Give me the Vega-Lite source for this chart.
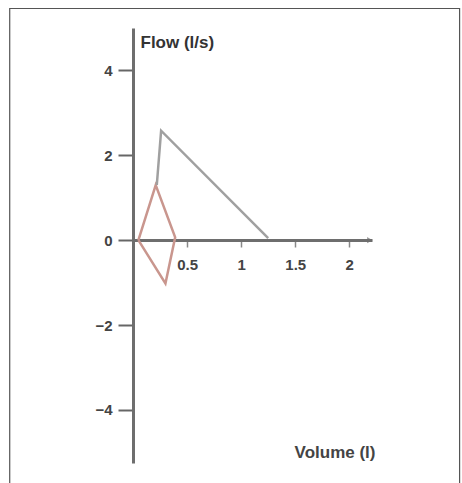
{
  "$schema": "https://vega.github.io/schema/vega-lite/v6.json",
  "width": 239,
  "height": 435,
  "autosize": "none",
  "padding": {"left": 133, "top": 28, "right": 90, "bottom": 20},
  "background": "white",
  "config": {"view": {"stroke": null}, "font": "Liberation Sans"},
  "datasets": {
    "frame": [{"x": -1.14, "x2": 3.02, "y": 5.46, "y2": -6.0}],
    "loops": [
      {"series": "tidal", "order": 1, "volume": 0.05, "flow": 0.0},
      {"series": "tidal", "order": 2, "volume": 0.21, "flow": 1.3},
      {"series": "tidal", "order": 3, "volume": 0.39, "flow": 0.07},
      {"series": "tidal", "order": 4, "volume": 0.3, "flow": -1.02},
      {"series": "tidal", "order": 5, "volume": 0.05, "flow": 0.0},
      {"series": "forced", "order": 1, "volume": 0.22, "flow": 1.3},
      {"series": "forced", "order": 2, "volume": 0.26, "flow": 2.58},
      {"series": "forced", "order": 3, "volume": 1.25, "flow": 0.05}
    ],
    "arrow": [{"volume": 2.19, "flow": 0}]
  },
  "layer": [
    {
      "data": {"name": "frame"},
      "mark": {"type": "rect", "fill": null, "stroke": "#555", "strokeWidth": 1.2, "clip": false},
      "encoding": {
        "x": {"field": "x", "type": "quantitative", "scale": {"domain": [0, 2.21]}},
        "x2": {"field": "x2"},
        "y": {"field": "y", "type": "quantitative", "scale": {"domain": [-5.25, 5]}},
        "y2": {"field": "y2"}
      }
    },
    {
      "data": {"name": "loops"},
      "mark": {"type": "line", "strokeWidth": 2.5, "strokeJoin": "miter"},
      "encoding": {
        "x": {
          "field": "volume", "type": "quantitative",
          "scale": {"domain": [0, 2.21], "nice": false, "zero": false},
          "axis": {
            "values": [0.5, 1, 1.5, 2],
            "format": "~g",
            "orient": "bottom",
            "offset": -223,
            "grid": false,
            "domainColor": "#6e6e6e",
            "domainWidth": 3,
            "tickColor": "#888",
            "tickSize": 7,
            "tickWidth": 1.5,
            "labelPadding": 10,
            "labelFontSize": 15,
            "labelFontWeight": "bold",
            "labelColor": "#444",
            "labelFont": "Liberation Sans",
            "title": "Volume (l)",
            "titleFontSize": 17,
            "titleFontWeight": "bold",
            "titleColor": "#444",
            "titleAlign": "right",
            "titleBaseline": "middle",
            "titleAnchor": null,
            "titleX": 242,
            "titleY": 212
          }
        },
        "y": {
          "field": "flow", "type": "quantitative",
          "scale": {"domain": [-5.25, 5], "nice": false, "zero": false},
          "axis": {
            "values": [-4, -2, 0, 2, 4],
            "grid": false,
            "domainColor": "#6e6e6e",
            "domainWidth": 3,
            "tickColor": "#666",
            "tickSize": 15,
            "tickWidth": 2,
            "labelPadding": 6,
            "labelFontSize": 15,
            "labelFontWeight": "bold",
            "labelColor": "#444",
            "labelFont": "Liberation Sans",
            "title": "Flow (l/s)",
            "titleAngle": 0,
            "titleFontSize": 17,
            "titleFontWeight": "bold",
            "titleColor": "#333",
            "titleAlign": "left",
            "titleBaseline": "middle",
            "titleAnchor": null,
            "titleX": 7,
            "titleY": 14
          }
        },
        "order": {"field": "order", "type": "quantitative"},
        "detail": {"field": "series"},
        "color": {
          "field": "series", "type": "nominal",
          "scale": {"domain": ["tidal", "forced"], "range": ["#c9968e", "#a0a0a0"]},
          "legend": null
        }
      }
    },
    {
      "data": {"name": "arrow"},
      "mark": {"type": "point", "shape": "triangle-right", "filled": true, "color": "#6e6e6e", "size": 40, "clip": false},
      "encoding": {
        "x": {"field": "volume", "type": "quantitative"},
        "y": {"field": "flow", "type": "quantitative"}
      }
    }
  ]
}
